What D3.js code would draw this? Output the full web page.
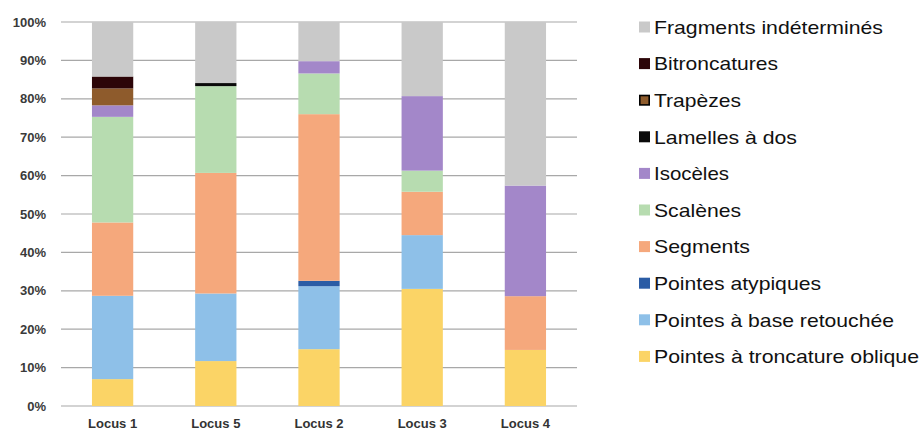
<!DOCTYPE html>
<html>
<head>
<meta charset="utf-8">
<script src="https://cdn.jsdelivr.net/npm/d3@7"></script>
<style>
  body { margin: 0; background: #fff; }
  text { font-family: "Liberation Sans", Arial, sans-serif; }
</style>
</head>
<body>
<svg id="chart" width="919" height="431"></svg>
<script>
// categories (bar order left to right)
const loci = ["Locus 1", "Locus 5", "Locus 2", "Locus 3", "Locus 4"];

// series, bottom to top of stack
const series = [
  "Pointes à troncature oblique",
  "Pointes à base retouchée",
  "Pointes atypiques",
  "Segments",
  "Scalènes",
  "Isocèles",
  "Lamelles à dos",
  "Trapèzes",
  "Bitroncatures",
  "Fragments indéterminés"
];

// percentages per locus, same order as loci
const troncature = [7.0, 11.7, 14.8, 30.5, 14.6];
const baseRetouchee = [21.7, 17.6, 16.4, 14.0, 0];
const atypiques = [0, 0, 1.4, 0, 0];
const segments = [19.1, 31.4, 43.4, 11.3, 14.0];
const scalenes = [27.5, 22.6, 10.6, 5.5, 0];
const isoceles = [3.0, 0, 3.2, 19.4, 28.8];
const lamelles = [0, 0.8, 0, 0, 0];
const trapezes = [4.4, 0, 0, 0, 0];
const bitroncatures = [3.1, 0, 0, 0, 0];
const fragments = [14.2, 15.9, 10.2, 19.3, 42.6];

const yTicks = [0, 10, 20, 30, 40, 50, 60, 70, 80, 90, 100];

const seriesValues = [troncature, baseRetouchee, atypiques, segments, scalenes,
  isoceles, lamelles, trapezes, bitroncatures, fragments];

const colors = ["#fbd466", "#8ec0e8", "#2b5ca5", "#f5a87c", "#b7dcb0",
  "#a387c9", "#0a0a0a", "#8e5b2c", "#2c0508", "#c9c9c9"];

const color = d3.scaleOrdinal().domain(series).range(colors);

// build table for d3.stack
const table = loci.map((l, i) => {
  const row = { locus: l };
  series.forEach((s, j) => { row[s] = seriesValues[j][i]; });
  return row;
});

const margin = { top: 22, left: 61, right: 342, bottom: 25 };
const svg = d3.select("#chart");
const width = 919 - margin.left - margin.right,
      height = 431 - margin.top - margin.bottom;

const chart = svg.append("g")
  .attr("transform", "translate(" + margin.left + "," + margin.top + ")");

const x = d3.scaleBand().domain(loci).range([0, width]).paddingInner(0.6).paddingOuter(0.3);
const y = d3.scaleLinear().domain([0, 100]).range([height, 0]);

// gridlines
chart.append("g")
  .selectAll("line")
  .data(yTicks)
  .join("line")
  .attr("x1", 0).attr("x2", width)
  .attr("y1", d => y(d)).attr("y2", d => y(d))
  .attr("stroke", "#a8a8a8")
  .attr("stroke-width", 1.2);

// y labels
chart.append("g")
  .selectAll("text")
  .data(yTicks)
  .join("text")
  .attr("x", -15)
  .attr("y", d => y(d))
  .attr("dy", "0.35em")
  .attr("text-anchor", "end")
  .attr("font-size", 13)
  .attr("font-weight", "bold")
  .attr("fill", "#3a3a3a")
  .text(d => d + "%");

// stacked bars
const stacked = d3.stack().keys(series)(table);
chart.append("g")
  .selectAll("g")
  .data(stacked)
  .join("g")
  .attr("fill", d => color(d.key))
  .selectAll("rect")
  .data(d => d)
  .join("rect")
  .attr("x", d => x(d.data.locus))
  .attr("width", x.bandwidth())
  .attr("y", d => y(d[1]))
  .attr("height", d => y(d[0]) - y(d[1]));

// x labels
chart.append("g")
  .selectAll("text")
  .data(loci)
  .join("text")
  .attr("x", d => x(d) + x.bandwidth() / 2)
  .attr("y", height + 22)
  .attr("text-anchor", "middle")
  .attr("font-size", 13)
  .attr("font-weight", "bold")
  .attr("fill", "#333")
  .text(d => d);

// legend, top item = last series
const legendItems = series.slice().reverse();
const legendWidths = {
  "Fragments indéterminés": 229, "Bitroncatures": 124, "Trapèzes": 87,
  "Lamelles à dos": 143, "Isocèles": 75, "Scalènes": 87, "Segments": 96,
  "Pointes atypiques": 167, "Pointes à base retouchée": 240,
  "Pointes à troncature oblique": 265
};
const legend = svg.append("g").attr("transform", "translate(639,27)");
const item = legend.selectAll("g")
  .data(legendItems)
  .join("g")
  .attr("transform", (d, i) => "translate(0," + (i * 36.6) + ")");

item.append("rect")
  .attr("x", d => d === "Trapèzes" ? 0.8 : 0)
  .attr("y", d => d === "Trapèzes" ? -4.7 : -5.5)
  .attr("width", d => d === "Trapèzes" ? 9.4 : 11)
  .attr("height", d => d === "Trapèzes" ? 9.4 : 11)
  .attr("fill", d => color(d))
  .attr("stroke", d => d === "Trapèzes" ? "#000" : "none")
  .attr("stroke-width", 1.6);

item.append("text")
  .attr("x", 15)
  .attr("y", 0)
  .attr("dy", "0.36em")
  .attr("font-size", 19)
  .attr("fill", "#111")
  .attr("textLength", d => legendWidths[d])
  .attr("lengthAdjust", "spacingAndGlyphs")
  .text(d => d);
</script>
</body>
</html>
